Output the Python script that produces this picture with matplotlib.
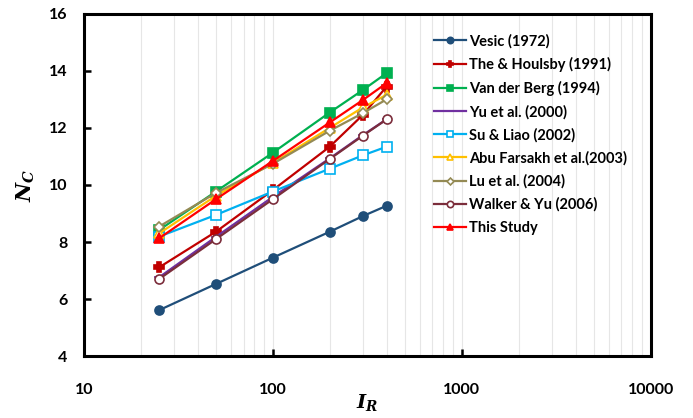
import matplotlib.pyplot as plt
from matplotlib.ticker import LogLocator, NullFormatter, FixedLocator

plt.rcParams['mathtext.fontset'] = 'custom'
plt.rcParams['mathtext.it'] = 'DejaVu Serif:italic:bold'
plt.rcParams['mathtext.rm'] = 'DejaVu Serif:bold'

# rigidity index values used by every study
ir = [25, 50, 100, 200, 300, 400]

vesic = [5.61, 6.53, 7.45, 8.36, 8.91, 9.27]
the_houlsby = [7.11, 8.36, 9.82, 11.34, 12.46, 13.45]
van_der_berg = [8.42, 9.77, 11.13, 12.54, 13.33, 13.92]
yu = [6.76, 8.18, 9.58, 10.93, 11.75, 12.30]
su_liao = [8.19, 8.95, 9.77, 10.57, 11.04, 11.34]
abu_farsakh = [8.30, 9.62, 10.77, 12.00, 12.72, 13.16]
lu = [8.54, 9.72, 10.74, 11.90, 12.52, 13.00]
walker_yu = [6.70, 8.10, 9.50, 10.91, 11.73, 12.30]
this_study = [8.13, 9.50, 10.84, 12.19, 12.98, 13.57]

series = [
    ('Vesic (1972)', vesic, '#1F4E79', 'o', True),
    ('The & Houlsby (1991)', the_houlsby, '#C00000', 'P', True),
    ('Van der Berg (1994)', van_der_berg, '#00B050', 's', True),
    ('Yu et al. (2000)', yu, '#7030A0', '_', True),
    ('Su & Liao (2002)', su_liao, '#00B0F0', 's', False),
    ('Abu Farsakh et al.(2003)', abu_farsakh, '#FFC000', '^', False),
    ('Lu et al. (2004)', lu, '#948A54', 'D', False),
    ('Walker & Yu (2006)', walker_yu, '#7B2D3B', 'o', False),
    ('This Study', this_study, '#FF0000', '^', True),
]

fig = plt.figure(figsize=(6.93, 4.18), dpi=100)
ax = fig.add_axes([0.121, 0.148, 0.818, 0.819])

for name, vals, col, mk, filled in series:
    ms = 6.5 if mk != 'D' else 5
    ax.plot(ir, vals, color=col, lw=1.6, marker=mk, ms=ms,
            markerfacecolor=col if filled else 'white',
            markeredgecolor=col, markeredgewidth=1.2, label=name)

ax.set_xscale('log')
ax.set_xlim(10, 10000)
ax.set_ylim(4, 16)
ax.set_yticks([4, 6, 8, 10, 12, 14, 16])

ax.xaxis.set_major_locator(FixedLocator([10, 100, 1000, 10000]))
ax.xaxis.set_minor_locator(LogLocator(base=10, subs=range(2, 10)))
ax.xaxis.set_minor_formatter(NullFormatter())
ax.set_xticklabels(['10', '100', '1000', '10000'])
ax.grid(True, which='both', axis='x', color='#E6E6E6', lw=0.8)
ax.set_axisbelow(True)

ax.tick_params(axis='both', which='major', direction='in', length=5, width=1.8,
               labelsize=11.5)
ax.tick_params(axis='x', which='major', pad=19)
ax.tick_params(axis='y', which='major', pad=12)
ax.tick_params(axis='x', which='minor', length=0)
for lbl in ax.get_xticklabels() + ax.get_yticklabels():
    lbl.set_fontweight('bold')
    lbl.set_fontfamily('Lato')

for sp in ax.spines.values():
    sp.set_linewidth(2.2)
    sp.set_color('black')

ax.set_xlabel(r'$I_R$', fontsize=14, labelpad=-3)
ax.set_ylabel(r'$N_C$', fontsize=15, labelpad=8)

ax.legend(loc='upper left', bbox_to_anchor=(0.595, 0.98), frameon=False,
          prop={'family': 'Lato', 'weight': 'bold', 'size': 10.5},
          handlelength=2.2, handletextpad=0.2, labelspacing=0.6,
          markerscale=0.7)

fig.savefig('out.png', dpi=100)
